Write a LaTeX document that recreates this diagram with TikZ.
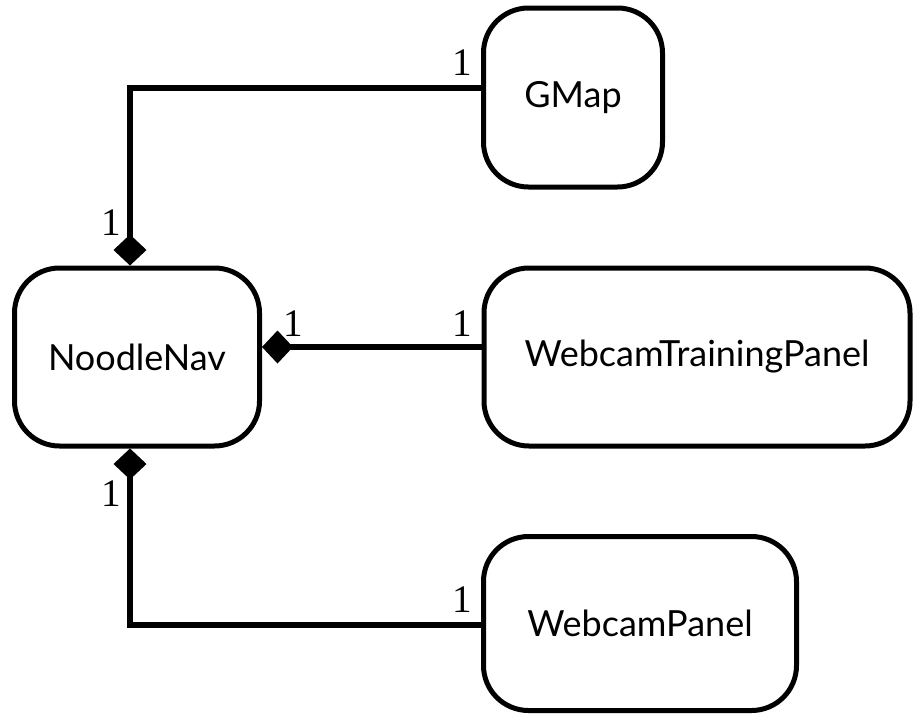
\documentclass[tikz,border=0pt]{standalone}
\usepackage{fontspec}
\setmainfont{Lato}
\newfontfamily\multfont{Liberation Serif}
\usetikzlibrary{arrows.meta,calc}
\tikzset{
  classbox/.style={draw, line width=5pt, rounded corners=45pt, align=center,
    font=\fontsize{36}{42}\selectfont, inner sep=0pt},
  conn/.style={line width=6.5pt},
  compo/.style={-{Diamond[length=31pt,width=33pt]}},
  mult/.style={font=\multfont\fontsize{39}{44}\selectfont, inner sep=0pt}
}
\begin{document}
\begin{tikzpicture}[x=1pt,y=-1pt]
\useasboundingbox (0,0) rectangle (914,713);

% classes
\node[classbox, minimum width=179pt, minimum height=179pt] (gmap) at (573,97.5) {GMap};
\node[classbox, minimum width=245pt, minimum height=178pt] (noodle) at (137,357) {NoodleNav};
\node[classbox, minimum width=426pt, minimum height=178pt] (wtp) at (697,357) {WebcamTrainingPanel};
\node[classbox, minimum width=313pt, minimum height=174pt] (wp) at (640,623.5) {WebcamPanel};

% bend points
\coordinate (topbend) at (130,88);
\coordinate (botbend) at (130,625);
\coordinate (midjoin) at ($(wtp.west)+(0,-10)$);

% compositions
\draw[conn, compo] (gmap.west |- topbend) -- (topbend) -- (topbend |- noodle.north);
\draw[conn, compo] (midjoin) -- (noodle.east |- midjoin);
\draw[conn, compo] (wp.west |- botbend) -- (botbend) -- (botbend |- noodle.south);

% multiplicities
\node[mult] (m1) at (462,63) {1};
\node[mult] (m2) at (111,223) {1};
\node[mult] (m3) at (293,324) {1};
\node[mult] (m4) at (462,324) {1};
\node[mult] (m5) at (111,494) {1};
\node[mult] (m6) at (462,600) {1};
\end{tikzpicture}
\end{document}
